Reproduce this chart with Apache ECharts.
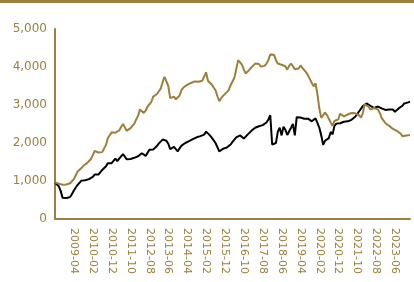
<!DOCTYPE html>
<html>
<head>
<meta charset="utf-8">
<script src="https://cdn.jsdelivr.net/npm/echarts@6/dist/echarts.min.js"></script>
<style>
  html, body { margin: 0; padding: 0; background: #fff; }
  #chart { width: 414px; height: 282px; }
</style>
</head>
<body>
<div id="chart"></div>
<script>
// monthly, 2008-06 .. 2024-02
const startYear = 2008;
const startMonth = 6;
const monthCount = 189;

const goldValues = [
  960, 950, 930, 920, 900, 900, 910, 920, 940, 980,
  1050, 1150, 1250, 1300, 1340, 1400, 1430, 1470, 1510, 1580,
  1680, 1790, 1800, 1750, 1740, 1760, 1780, 1950, 2130, 2180,
  2280, 2290, 2270, 2250, 2330, 2420, 2500, 2470, 2320, 2330,
  2390, 2430, 2510, 2620, 2720, 2880, 2880, 2790, 2850, 2960,
  3020, 3080, 3220, 3270, 3290, 3310, 3430, 3600, 3740, 3760,
  3500, 3180, 3150, 3220, 3150, 3100, 3250, 3400, 3460, 3500,
  3530, 3560, 3580, 3600, 3620, 3600, 3610, 3630, 3640, 3660,
  3860, 3640, 3590, 3540, 3460, 3390, 3230, 3100, 3180, 3240,
  3290, 3340, 3400, 3520, 3620, 3720, 3950, 4180, 4180, 4060,
  3930, 3830, 3880, 3930, 3990, 4040, 4090, 4140, 4080, 4010,
  3980, 4030, 4090, 4180, 4330, 4380, 4320, 4180, 4090, 4060,
  4060, 4090, 4020, 3930, 4030, 4090, 4020, 3940, 3900, 3960,
  4040, 3990, 3920, 3860, 3780, 3680, 3580, 3490, 3570, 3280,
  2900, 2660, 2680, 2800, 2740, 2640, 2540, 2450, 2580, 2560,
  2620, 2770, 2730, 2700, 2720, 2750, 2800, 2790, 2740, 2780,
  2820, 2730, 2670, 2780, 3020, 3050, 2960, 2880, 2830, 2920,
  2940, 2880, 2790, 2660, 2590, 2520, 2490, 2450, 2400, 2370,
  2340, 2320, 2300, 2250, 2180, 2150, 2200, 2210, 2210
];

const blackValues = [
  960, 950, 860, 740, 560, 540, 550, 550, 580, 660,
  750, 830, 900, 950, 1010, 1030, 1020, 1030, 1050, 1070,
  1110, 1170, 1200, 1170, 1220, 1290, 1330, 1390, 1470, 1500,
  1470, 1520, 1590, 1520, 1590, 1650, 1710, 1700, 1570, 1560,
  1580, 1600, 1610, 1630, 1650, 1690, 1730, 1680, 1660, 1740,
  1820, 1850, 1830, 1860, 1920, 1990, 2040, 2090, 2110, 2060,
  1980, 1840, 1860, 1900, 1840, 1780, 1860, 1930, 1970, 2000,
  2030, 2050, 2080, 2100, 2130, 2150, 2160, 2180, 2190, 2220,
  2300, 2320, 2200, 2140, 2090, 2000, 1890, 1780, 1810, 1850,
  1870, 1880, 1900, 1960, 2030, 2090, 2150, 2180, 2200, 2180,
  2120, 2170, 2220, 2270, 2320, 2360, 2400, 2430, 2440, 2460,
  2470, 2500, 2540, 2620, 2730, 1960, 1970, 2000, 2300, 2400,
  2200, 2430, 2350, 2210, 2170, 2400, 2500, 2200, 2680, 2660,
  2670, 2690, 2640, 2610, 2640, 2630, 2570, 2600, 2650, 2520,
  2400, 2200, 1950, 2060, 2100, 2130, 2290, 2230, 2450, 2510,
  2470, 2520, 2560, 2560, 2550, 2570, 2590, 2610, 2640, 2690,
  2760, 2830, 2900, 2970, 3010, 3040, 3010, 2980, 2950, 2920,
  2930, 2960, 2930, 2910, 2890, 2870, 2870, 2880, 2910, 2880,
  2820, 2860, 2910, 2930, 2980, 3040, 3040, 3070, 3090
];

const yTicks = [0, 1000, 2000, 3000, 4000, 5000];

// build the month labels (YYYY-MM)
const categories = [];
for (let i = 0; i < monthCount; i += 1) {
  const m = startMonth - 1 + i;
  const y = startYear + Math.floor(m / 12);
  const mm = (m % 12) + 1;
  categories.push(`${y}-${mm < 10 ? '0' : ''}${mm}`);
}

const gold = '#9d7f3a';
const font = 'DejaVu Sans';

const chart = echarts.init(document.getElementById('chart'));

chart.setOption({
  animation: false,
  graphic: [
    {
      type: 'rect',
      shape: { x: 0, y: 0, width: 414, height: 3 },
      style: { fill: gold },
    },
  ],
  grid: {
    left: 55,
    right: 4,
    top: 29,
    bottom: 63,
    containLabel: false,
  },
  xAxis: {
    type: 'category',
    data: categories,
    boundaryGap: false,
    axisLine: { lineStyle: { color: gold, width: 2 } },
    axisTick: { show: false },
    axisLabel: {
      rotate: -90,
      interval: 0,
      hideOverlap: false,
      // every 10th month, first one shown is 2009-04
      formatter(value, idx) {
        return idx > 0 && idx % 10 === 0 ? value : '';
      },
      margin: 9,
      color: gold,
      fontFamily: font,
      fontSize: 11,
    },
  },
  yAxis: {
    type: 'value',
    min: yTicks[0],
    max: yTicks[yTicks.length - 1],
    interval: 1000,
    splitLine: { show: false },
    axisLine: { show: true, lineStyle: { color: gold, width: 2 } },
    axisTick: { show: false },
    axisLabel: {
      margin: 8,
      color: gold,
      fontFamily: font,
      fontSize: 12,
      formatter(value) {
        return value.toLocaleString('en-US');
      },
    },
  },
  series: [
    {
      name: 'Black',
      type: 'line',
      data: blackValues,
      showSymbol: false,
      lineStyle: { color: '#000', width: 2 },
    },
    {
      name: 'Gold',
      type: 'line',
      data: goldValues,
      showSymbol: false,
      lineStyle: { color: gold, width: 2 },
    },
  ],
});
</script>
</body>
</html>
